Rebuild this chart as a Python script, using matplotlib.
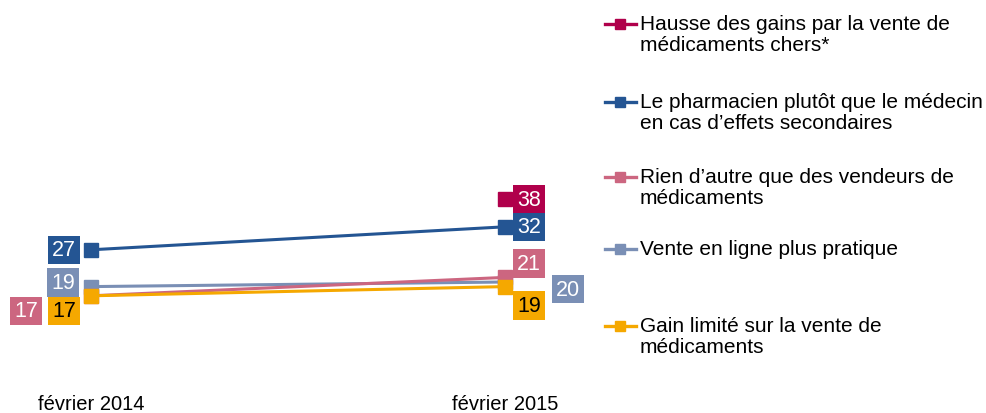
import matplotlib.pyplot as plt
import numpy as np
from matplotlib.lines import Line2D

plt.rcParams['font.family'] = ['Liberation Sans', 'DejaVu Sans']

periods = ['février 2014', 'février 2015']
labels = ['Hausse des gains par la vente de\nmédicaments chers*',
          'Le pharmacien plutôt que le médecin\nen cas d\u2019effets secondaires',
          'Rien d\u2019autre que des vendeurs de\nmédicaments',
          'Vente en ligne plus pratique',
          'Gain limité sur la vente de\nmédicaments']
hausse = [np.nan, 38]
pharmacien = [27, 32]
vendeurs = [17, 21]
en_ligne = [19, 20]
gain = [17, 19]

series = [hausse, pharmacien, vendeurs, en_ligne, gain]
colors = ['#B0004B', '#245593', '#CC6680', '#7A8FB5', '#F5A800']
txt_colors = ['white', 'white', 'white', 'white', 'black']
zorders = [6, 5, 3, 2, 4]
# label offsets in pixels (dx, dy) for each point
offsets = [[None, (24, 0)],
           [(-27, 0), (24, 0)],
           [(-65, -15), (24, 14)],
           [(-28, 4), (63, -7)],
           [(-27, -15), (24, -19)]]

W, H = 986, 414
fig = plt.figure(figsize=(W / 100, H / 100), dpi=100)
# axes: x from 0 to 590 px, y=0 at 375 px from top
ax = fig.add_axes([0, (H - 375) / H, 590 / W, 375 / H])
ax.set_xlim(-91 / 414, (590 - 91) / 414)
ax.set_ylim(0, 375 / 4.6)
ax.axis('off')

x = np.arange(len(periods))
for vals, c, tc, z, offs in zip(series, colors, txt_colors, zorders, offsets):
    ax.plot(x, vals, color=c, lw=2.2, marker='s', ms=9.5, zorder=z)
    for xi, v, off in zip(x, vals, offs):
        if off is None or np.isnan(v):
            continue
        ax.annotate(f'{v:g}', (xi, v), xytext=off, textcoords='offset pixels',
                    ha='center', va='center', fontsize=15.5, color=tc, zorder=10,
                    bbox=dict(boxstyle='square,pad=0.17', fc=c, ec='none'))

for xi, p in zip(x, periods):
    ax.annotate(p, (xi, 0), xytext=(0, -30), textcoords='offset pixels',
                ha='center', va='center', fontsize=14.5, annotation_clip=False)

# legend drawn by hand: marker aligned with first text line
leg_y = [25, 103, 178, 250, 327]
for lab, c, ly in zip(labels, colors, leg_y):
    yf = 1 - ly / H
    fig.add_artist(Line2D([605 / W, 636 / W], [yf, yf], color=c, lw=2.4,
                          transform=fig.transFigure))
    fig.add_artist(Line2D([620 / W], [yf], color=c, marker='s', ms=7.5,
                          transform=fig.transFigure))
    fig.text(640 / W, 1 - (ly - 10) / H, lab, ha='left', va='top',
             fontsize=15, linespacing=1.15)

fig.savefig('out.png', dpi=100)
